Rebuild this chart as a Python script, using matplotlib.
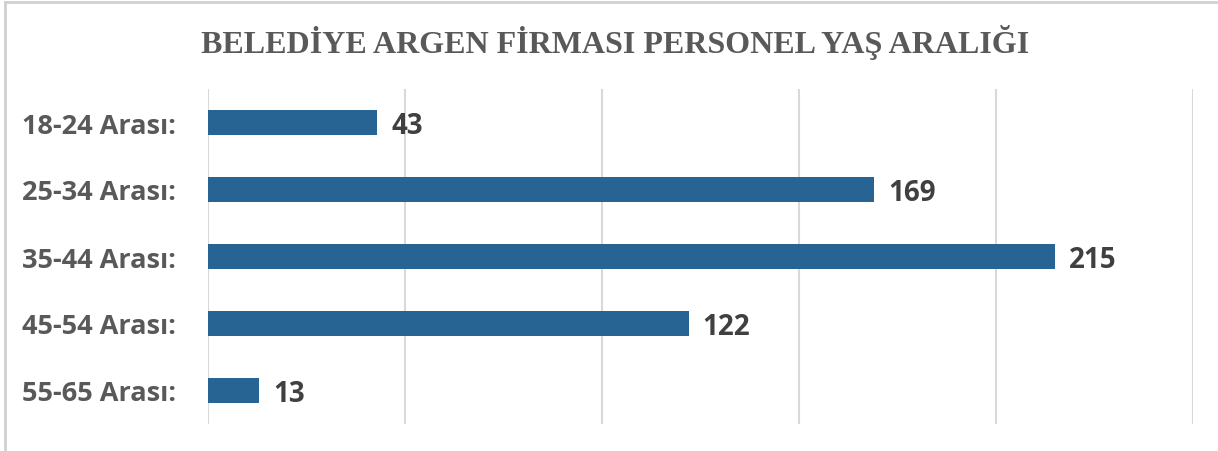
import matplotlib.pyplot as plt
from matplotlib.lines import Line2D

categories = ['18-24 Arası:', '25-34 Arası:', '35-44 Arası:', '45-54 Arası:', '55-65 Arası:']
values = [43, 169, 215, 122, 13]
title = 'BELEDİYE ARGEN FİRMASI PERSONEL YAŞ ARALIĞI'

bar_color = '#276393'
grid_color = '#d9d9d9'
text_color = '#595959'
label_font = ['Open Sans', 'DejaVu Sans']

fig = plt.figure(figsize=(12.18, 4.52), dpi=100)
ax = fig.add_axes((208 / 1218, 1 - 425 / 452, 985 / 1218, 335 / 452))

y = list(range(len(categories)))
ax.barh(y, values, height=0.36, color=bar_color, zorder=3)
ax.set_ylim(len(categories) - 0.5, -0.5)
ax.set_xlim(0, 250)
ax.set_xticks(range(0, 251, 50))
ax.set_xticklabels([])
ax.tick_params(axis='both', length=0)
ax.grid(axis='x', color=grid_color, linewidth=1.5, zorder=0)
for s in ax.spines.values():
    s.set_visible(False)

ax.set_yticks(y)
ax.set_yticklabels(categories, fontsize=19.5, fontweight='bold', color=text_color,
                   family=label_font)
ax.tick_params(axis='y', pad=23)

# value labels
for yi, v in zip(y, values):
    ax.annotate(str(v), (v, yi), xytext=(14, -3), textcoords='offset pixels',
                ha='left', va='center', fontsize=20, fontweight='bold',
                color='#404040', family=label_font)

fig.text(615 / 1218, 1 - 42 / 452, title, ha='center', va='center',
         fontsize=23, fontweight='bold', color=text_color,
         family=['Liberation Serif', 'DejaVu Serif'])

# thin frame at top and left edge
fig.add_artist(Line2D([5 / 1218, 1], [1 - 3 / 452] * 2, color='#d0d0d0', lw=2))
fig.add_artist(Line2D([5 / 1218] * 2, [0, 1 - 3 / 452], color='#d0d0d0', lw=2))

fig.savefig('out.png', dpi=100, facecolor='white')
